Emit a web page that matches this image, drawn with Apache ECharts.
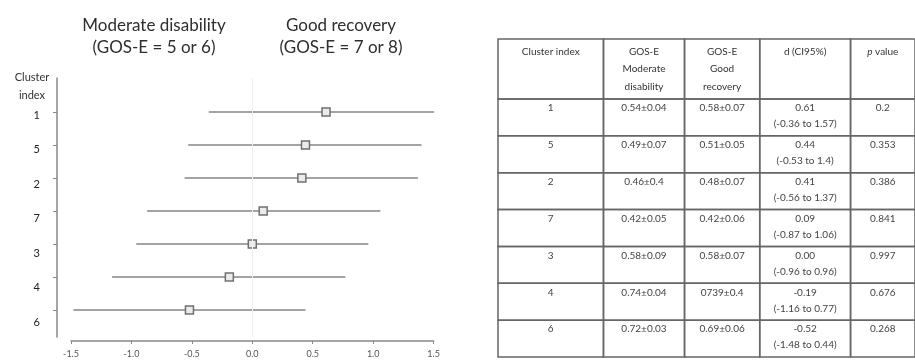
<!DOCTYPE html>
<html>
<head>
<meta charset="utf-8">
<script src="https://cdn.jsdelivr.net/npm/echarts@6/dist/echarts.min.js"></script>
<style>
  html, body { margin: 0; padding: 0; background: #fff; }
  #chart { width: 915px; height: 363px; }
</style>
</head>
<body>
<div id="chart"></div>
<script>
// Cluster order, top to bottom
const clusters = ['1', '5', '2', '7', '3', '4', '6'];
// Effect size d and its 95% confidence interval
const effectD = [0.61, 0.44, 0.41, 0.09, 0.00, -0.19, -0.52];
const ciLow = [-0.36, -0.53, -0.56, -0.87, -0.96, -1.16, -1.48];
const ciHigh = [1.57, 1.4, 1.37, 1.06, 0.96, 0.77, 0.44];
// GOS-E group scores (mean ± sd, as printed)
const moderateScore = ['0.54±0.04', '0.49±0.07', '0.46±0.4', '0.42±0.05', '0.58±0.09', '0.74±0.04', '0.72±0.03'];
const goodScore = ['0.58±0.07', '0.51±0.05', '0.48±0.07', '0.42±0.06', '0.58±0.07', '0739±0.4', '0.69±0.06'];
const pValues = ['0.2', '0.353', '0.386', '0.841', '0.997', '0.676', '0.268'];
// Column headings of the table
const tableHeader = ['Cluster index', 'GOS-E\nModerate\ndisability', 'GOS-E\nGood\nrecovery', 'd (CI95%)', '{i|p} value'];

// Table layout: column edges and row edges in table units (px-like)
const COL_EDGES = [0, 108, 191, 268, 361, 427];
const ROW_EDGES = [0, 60];
for (let i = 1; i <= clusters.length; i++) ROW_EDGES.push(60 + i * 36.86);

const FONT = 'Lato, "Open Sans", sans-serif';
const AXIS_GREY = '#888888';

// Build cell list and cell texts
const cells = [];
const cellText = [];
tableHeader.forEach((h, c) => { cells.push([c, 0]); cellText.push(h); });
clusters.forEach((cl, i) => {
  const row = [
    cl,
    moderateScore[i],
    goodScore[i],
    effectD[i].toFixed(2) + '\n(' + String(ciLow[i]) + ' to ' + String(ciHigh[i]) + ')',
    pValues[i]
  ];
  row.forEach((t, c) => { cells.push([c, i + 1]); cellText.push(t); });
});

const chart = echarts.init(document.getElementById('chart'));

const option = {
  animation: false,
  title: [
    { text: 'Moderate disability\n(GOS-E = 5 or 6)', left: 149, top: 10, textAlign: 'center',
      textStyle: { fontFamily: FONT, fontSize: 17, fontWeight: 'normal', color: '#2e2e2e', lineHeight: 22 } },
    { text: 'Good recovery\n(GOS-E = 7 or 8)', left: 336, top: 10, textAlign: 'center',
      textStyle: { fontFamily: FONT, fontSize: 17, fontWeight: 'normal', color: '#2e2e2e', lineHeight: 22 } },
    { text: 'Cluster\nindex', left: 27, top: 63, textAlign: 'center',
      textStyle: { fontFamily: FONT, fontSize: 11, fontWeight: 'normal', color: '#333', lineHeight: 18 } }
  ],
  grid: [
    { left: 71, right: 481.4, top: 78, bottom: 26 },       // forest plot
    { left: 71, right: 481.4, top: 80.5, bottom: 6.5 },    // cluster labels
    { left: 498, top: 39, width: 427, height: 318 }        // table
  ],
  xAxis: [
    {
      gridIndex: 0, type: 'value', min: -1.5, max: 1.5, interval: 0.5, offset: 4,
      axisLine: { show: true, onZero: false, lineStyle: { color: AXIS_GREY, width: 1.5 } },
      axisTick: { show: true, length: 3 },
      splitLine: { show: false },
      axisLabel: { formatter: v => v.toFixed(1), fontSize: 9, color: '#555', margin: 9, fontFamily: FONT }
    },
    { gridIndex: 1, type: 'value', min: 0, max: 1, show: false },
    { gridIndex: 2, type: 'value', min: 0, max: 427, show: false }
  ],
  yAxis: [
    {
      gridIndex: 0, type: 'value', inverse: true, min: -1.03, max: 6.82, offset: 14,
      axisLine: { show: true, onZero: false, lineStyle: { color: AXIS_GREY, width: 1.5 } },
      axisTick: { show: true, length: 4, customValues: [0, 1, 2, 3, 4, 5, 6] },
      axisLabel: { show: false },
      splitLine: { show: false }
    },
    {
      gridIndex: 1, type: 'value', inverse: true, min: -1, max: 7, offset: 14,
      axisLine: { show: false, onZero: false }, axisTick: { show: false }, splitLine: { show: false },
      axisLabel: {
        show: true, customValues: [0, 1, 2, 3, 4, 5, 6], margin: 17,
        formatter: v => clusters[v], fontSize: 11, color: '#222', fontFamily: FONT
      }
    },
    { gridIndex: 2, type: 'value', inverse: true, min: 0, max: 318, show: false }
  ],
  series: [
    {
      // confidence interval bars, clipped to the plotted range
      type: 'custom', xAxisIndex: 0, yAxisIndex: 0, clip: true,
      data: clusters.map((_, i) => [ciLow[i], ciHigh[i], i]),
      encode: { x: [0, 1], y: 2 },
      renderItem(params, api) {
        const a = api.coord([api.value(0), api.value(2)]);
        const b = api.coord([api.value(1), api.value(2)]);
        return {
          type: 'line',
          shape: { x1: a[0], y1: a[1], x2: b[0], y2: b[1] },
          style: { stroke: '#a3a3a3', lineWidth: 2 }
        };
      }
    },
    {
      // effect size point estimates
      type: 'scatter', xAxisIndex: 0, yAxisIndex: 0,
      data: effectD.map((d, i) => [d, i]),
      symbol: 'rect', symbolSize: 8,
      itemStyle: { color: '#ebebeb', borderColor: '#707070', borderWidth: 1.5, opacity: 1 },
      markLine: {
        silent: true, symbol: 'none', label: { show: false },
        lineStyle: { color: '#efefef', width: 1, type: 'solid' },
        data: [{ xAxis: 0 }]
      }
    },
    {
      // summary table
      type: 'custom', xAxisIndex: 2, yAxisIndex: 2,
      data: cells,
      renderItem(params, api) {
        const c = api.value(0), r = api.value(1);
        const tl = api.coord([COL_EDGES[c], ROW_EDGES[r]]);
        const br = api.coord([COL_EDGES[c + 1], ROW_EDGES[r + 1]]);
        const header = r === 0;
        return {
          type: 'group',
          children: [
            {
              type: 'rect',
              shape: { x: tl[0], y: tl[1], width: br[0] - tl[0], height: br[1] - tl[1] },
              style: { fill: 'none', stroke: '#666', lineWidth: 1.5 }
            },
            {
              type: 'text',
              x: (tl[0] + br[0]) / 2,
              y: tl[1] + (header ? 4 : 1),
              style: {
                text: cellText[params.dataIndex],
                align: 'center', verticalAlign: 'top',
                fontFamily: FONT, fontSize: 10,
                lineHeight: header ? 17.5 : 16,
                fill: header ? '#333' : '#444',
                rich: { i: { fontStyle: 'italic', fontFamily: FONT, fontSize: 10, fill: '#333' } }
              }
            }
          ]
        };
      }
    }
  ]
};

chart.setOption(option);
</script>
</body>
</html>
